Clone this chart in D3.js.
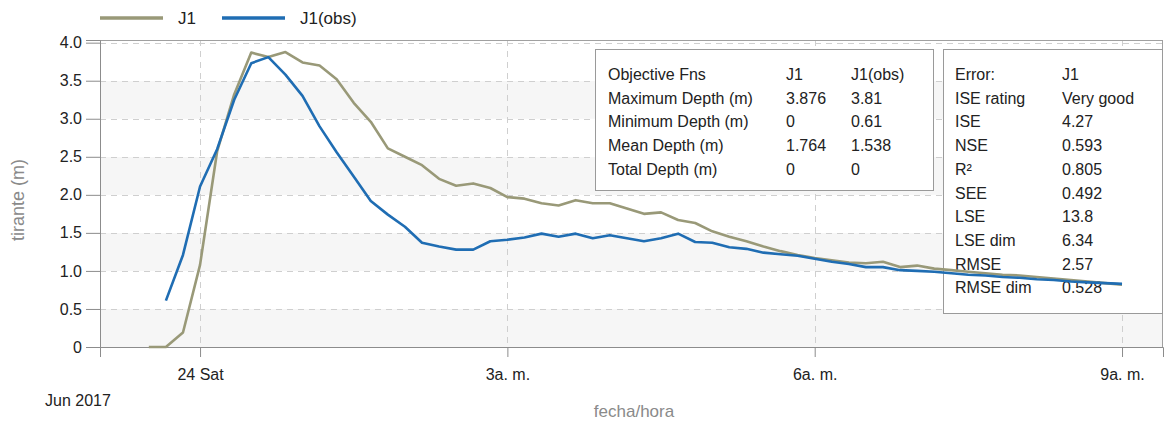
<!DOCTYPE html>
<html>
<head>
<meta charset="utf-8">
<script src="https://cdn.jsdelivr.net/npm/d3@7"></script>
<style>
  html, body { margin: 0; padding: 0; background: #fff; }
  svg { display: block; font-family: "Liberation Sans", Arial, sans-serif; }
</style>
</head>
<body>
<svg id="chart" width="1164" height="421"></svg>
<script>
// Simulated vs observed depth at node J1, 10-minute steps (minutes from 24 Jun 2017 00:00)
const simMinutes = d3.range(-30, 541, 10);
const simDepth = [
  0, 0, 0.19, 1.08, 2.57, 3.32, 3.87, 3.81, 3.876, 3.74,
  3.70, 3.52, 3.21, 2.96, 2.61, 2.50, 2.39, 2.21, 2.12, 2.15,
  2.09, 1.97, 1.95, 1.89, 1.86, 1.93, 1.89, 1.89, 1.82, 1.75,
  1.77, 1.67, 1.63, 1.52, 1.45, 1.39, 1.32, 1.26, 1.21, 1.17,
  1.14, 1.11, 1.10, 1.12, 1.05, 1.07, 1.03, 1.01, 0.99, 0.97,
  0.95, 0.94, 0.92, 0.90, 0.88, 0.86, 0.84, 0.82
];
const obsMinutes = d3.range(-20, 541, 10);
const obsDepth = [
  0.61, 1.21, 2.11, 2.60, 3.25, 3.73, 3.81, 3.58, 3.30, 2.90,
  2.56, 2.24, 1.92, 1.74, 1.58, 1.37, 1.32, 1.28, 1.28, 1.39,
  1.41, 1.44, 1.49, 1.45, 1.49, 1.43, 1.47, 1.43, 1.39, 1.43,
  1.49, 1.38, 1.37, 1.31, 1.29, 1.24, 1.22, 1.20, 1.16, 1.12,
  1.09, 1.05, 1.05, 1.01, 1.00, 0.99, 0.97, 0.95, 0.94, 0.92,
  0.91, 0.89, 0.88, 0.86, 0.85, 0.84, 0.83
];

const seriesNames = ["J1", "J1(obs)"];
const seriesColors = ["#999978", "#1f6db3"];

const yTickValues = [0, 0.5, 1, 1.5, 2, 2.5, 3, 3.5, 4];
const yTickLabels = ["0", "0.5", "1.0", "1.5", "2.0", "2.5", "3.0", "3.5", "4.0"];
const xTickHours = [0, 3, 6, 9];
const xTickLabels = ["24 Sat", "3a. m.", "6a. m.", "9a. m."];

const objHeader = ["Objective Fns", "J1", "J1(obs)"];
const objRows = [
  ["Maximum Depth (m)", "3.876", "3.81"],
  ["Minimum Depth (m)", "0", "0.61"],
  ["Mean Depth (m)", "1.764", "1.538"],
  ["Total Depth (m)", "0", "0"]
];
const errRows = [
  ["Error:", "J1"],
  ["ISE rating", "Very good"],
  ["ISE", "4.27"],
  ["NSE", "0.593"],
  ["R\u00b2", "0.805"],
  ["SEE", "0.492"],
  ["LSE", "13.8"],
  ["LSE dim", "6.34"],
  ["RMSE", "2.57"],
  ["RMSE dim", "0.528"]
];

const base = new Date(2017, 5, 24, 0, 0, 0);
const atMinute = m => new Date(base.getTime() + m * 60000);

const svg = d3.select("#chart");
const plot = { left: 100, right: 1163, top: 40, bottom: 347 };

const x = d3.scaleTime()
  .domain([new Date(2017, 5, 23, 23, 1, 24), new Date(2017, 5, 24, 9, 24, 0)])
  .range([plot.left, plot.right]);
const y = d3.scaleLinear().domain([0, 4.035]).range([plot.bottom, plot.top]);

// alternating horizontal bands
const bands = d3.range(0, 4, 0.5);
svg.append("g").selectAll("rect").data(bands).join("rect")
  .attr("x", plot.left).attr("width", plot.right - plot.left)
  .attr("y", d => y(Math.min(d + 0.5, 4.035)))
  .attr("height", d => y(d) - y(Math.min(d + 0.5, 4.035)))
  .attr("fill", (d, i) => i % 2 === 0 ? "#f6f6f6" : "#ffffff");

// dashed grid
const grid = svg.append("g").attr("stroke", "#cfcfcf").attr("stroke-dasharray", "6,5").attr("stroke-width", 1);
grid.selectAll("line.h").data(yTickValues.filter(v => v > 0)).join("line")
  .attr("x1", plot.left).attr("x2", plot.right)
  .attr("y1", d => Math.round(y(d)) + 0.5).attr("y2", d => Math.round(y(d)) + 0.5);
grid.selectAll("line.v").data(xTickHours).join("line")
  .attr("y1", plot.top).attr("y2", plot.bottom)
  .attr("x1", d => Math.round(x(atMinute(d * 60))) + 0.5)
  .attr("x2", d => Math.round(x(atMinute(d * 60))) + 0.5);

// frame
svg.append("rect")
  .attr("x", plot.left + 0.5).attr("y", plot.top + 0.5)
  .attr("width", plot.right - plot.left - 1).attr("height", plot.bottom - plot.top)
  .attr("fill", "none").attr("stroke", "#a0a0a0");

// axes
const yAxis = d3.axisLeft(y).tickValues(yTickValues)
  .tickFormat((d, i) => yTickLabels[i]).tickSize(14).tickPadding(4);
const gy = svg.append("g").attr("transform", `translate(${plot.left},0)`).call(yAxis);
gy.select(".domain").attr("stroke", "#8c8c8c");
gy.selectAll(".tick line").attr("stroke", "#8c8c8c");
gy.selectAll(".tick text").attr("font-size", 16).attr("fill", "#222").attr("font-family", "Liberation Sans, Arial, sans-serif");

const xAxis = d3.axisBottom(x).tickValues(xTickHours.map(h => atMinute(h * 60)))
  .tickFormat((d, i) => xTickLabels[i]).tickSize(10).tickPadding(12);
const gx = svg.append("g").attr("transform", `translate(0,${plot.bottom})`).call(xAxis);
gx.select(".domain").attr("stroke", "#8c8c8c");
gx.selectAll(".tick line").attr("stroke", "#8c8c8c");
gx.selectAll(".tick text").attr("font-size", 16).attr("fill", "#222").attr("font-family", "Liberation Sans, Arial, sans-serif");

svg.append("text").attr("x", 45).attr("y", 406).attr("font-size", 16).attr("fill", "#222").text("Jun 2017");

// axis titles
svg.append("text").attr("x", 634).attr("y", 417).attr("text-anchor", "middle")
  .attr("font-size", 17).attr("fill", "#8a8a8a").text("fecha/hora");
svg.append("text").attr("transform", "translate(24,200) rotate(-90)").attr("text-anchor", "middle")
  .attr("font-size", 18).attr("fill", "#8a8a8a").text("tirante (m)");

// statistics boxes
function table(x0, y0, w, h, rows, cols) {
  const g = svg.append("g");
  g.append("rect").attr("x", x0 + 0.5).attr("y", y0 + 0.5).attr("width", w).attr("height", h)
    .attr("fill", "#fff").attr("stroke", "#9a9a9a");
  rows.forEach((r, ri) => {
    r.forEach((c, ci) => {
      g.append("text").attr("x", x0 + cols[ci]).attr("y", y0 + 31 + ri * 23.7)
        .attr("font-size", 16).attr("fill", "#222").text(c);
    });
  });
}
table(595, 49, 338, 141, [objHeader, ...objRows], [13, 191, 256]);
table(943, 49, 219, 264, errRows, [12, 119]);

// series lines
const line = d3.line().x(d => x(atMinute(d[0]))).y(d => y(d[1]));
const simData = simMinutes.map((m, i) => [m, simDepth[i]]);
const obsData = obsMinutes.map((m, i) => [m, obsDepth[i]]);
svg.append("path").datum(simData).attr("d", line)
  .attr("fill", "none").attr("stroke", seriesColors[0]).attr("stroke-width", 2.6).attr("stroke-linejoin", "round");
svg.append("path").datum(obsData).attr("d", line)
  .attr("fill", "none").attr("stroke", seriesColors[1]).attr("stroke-width", 2.6).attr("stroke-linejoin", "round");

// legend
const legendX = [100, 222];
seriesNames.forEach((name, i) => {
  svg.append("line").attr("x1", legendX[i]).attr("x2", legendX[i] + 63).attr("y1", 18).attr("y2", 18)
    .attr("stroke", seriesColors[i]).attr("stroke-width", 3.5);
  svg.append("text").attr("x", legendX[i] + 78).attr("y", 24).attr("font-size", 17).attr("fill", "#222").text(name);
});
</script>
</body>
</html>
